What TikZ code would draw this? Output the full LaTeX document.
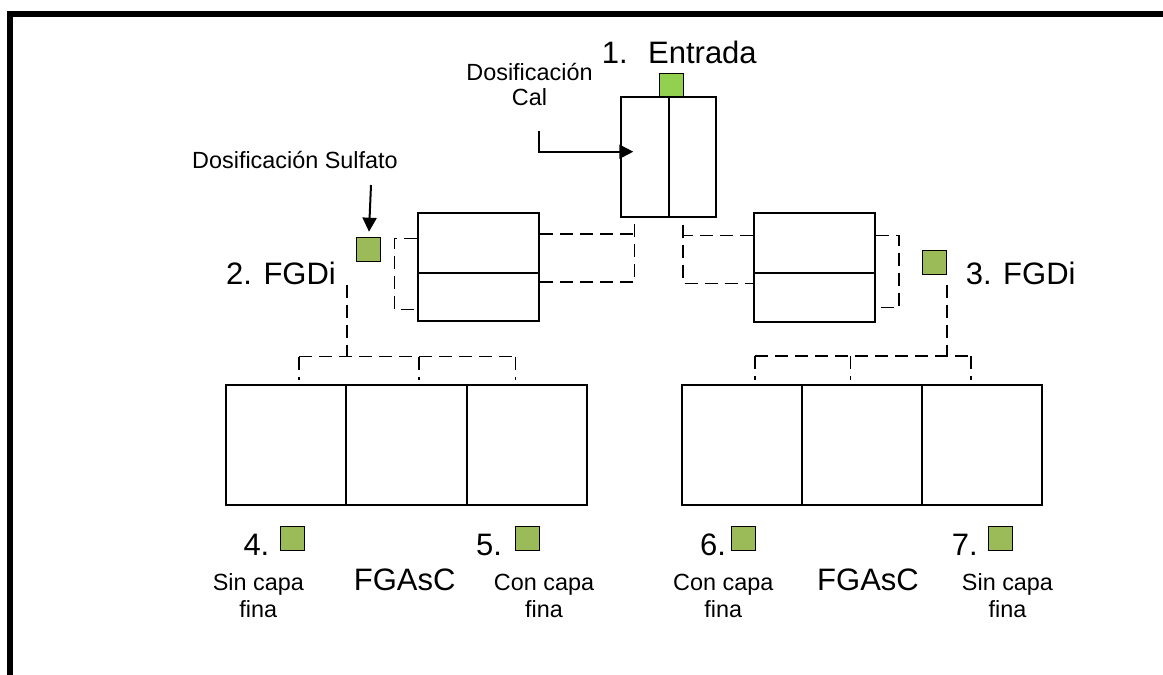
\documentclass[tikz,border=0pt]{standalone}
\usepackage{fontspec}
\setmainfont{Liberation Sans}
\usetikzlibrary{arrows.meta,calc}
\definecolor{olv}{HTML}{9BBB59}
\definecolor{lgr}{HTML}{92D050}
\begin{document}
\begin{tikzpicture}[x=1pt,y=-1pt,
  boxnode/.style={draw,line width=2pt,inner sep=0pt},
  cell/.style={boxnode,minimum width=120.2pt,minimum height=120pt},
  fgdi/.style={boxnode,minimum width=121pt,minimum height=108.5pt},
  solidline/.style={line width=2pt},
  dsh/.style={line width=1.5pt,dash pattern=on 13pt off 7pt},
  sq/.style={draw,line width=1pt,fill=olv,minimum width=24pt,minimum height=24pt,inner sep=0pt},
  big/.style={font=\fontsize{31}{37}\selectfont,inner sep=0pt},
  small/.style={font=\fontsize{23.4}{28}\selectfont,inner sep=0pt},
  arr/.style={line width=2pt,-{Triangle[length=14pt,width=14pt]}}
]
\useasboundingbox (0,0) rectangle (1163,675);
% frame
\draw[line width=6pt] (1175,13.7) -- (10.3,13.7) -- (10.3,690);

% top box
\node[boxnode,minimum width=95.6pt,minimum height=120pt] (b1) at (668.5,156.7) {};
\draw[solidline] (b1.north) -- (b1.south);
\node[sq,fill=lgr,minimum width=24pt,minimum height=23pt] (s1) at (671,84.5) {};
\node[big,anchor=base west] (t1) at (601.7,63) {1.\hspace{20.4pt}Entrada};

% Dosificacion Cal
\node[small,anchor=base] (dc1) at (529.5,80) {Dosificación};
\node[small,anchor=base] (dc2) at (529.5,105) {Cal};
\coordinate (cal0) at (539.3,131);
\coordinate (caltip) at ($(b1.west)+(13.6,-5)$);
\draw[arr] (cal0) -- (cal0 |- caltip) -- (caltip);

% FGDi boxes
\node[fgdi] (b2) at (478.4,267.2) {};
\draw[solidline] ($(b2.north west)!0.55!(b2.south west)$) -- ($(b2.north east)!0.55!(b2.south east)$);
\node[fgdi] (b3) at (814.4,267.3) {};
\draw[solidline] ($(b3.north west)!0.55!(b3.south west)$) -- ($(b3.north east)!0.55!(b3.south east)$);

% dashed links box1 - box2
\coordinate (j1) at ($(b1.south)+(-34,6.3)$);
\draw[dsh] (j1) -- (j1 |- 0,282) -- (b2.east |- 0,282);
\draw[dsh] (b2.east |- 0,234) -- (j1 |- 0,234);
% dashed links box1 - box3
\coordinate (j2) at ($(b1.south)+(14.5,7.3)$);
\draw[dsh] (j2) -- (j2 |- 0,283.3) -- (b3.west |- 0,283.3);
\draw[dsh] (b3.west |- 0,235.7) -- (j2 |- 0,235.7);
% side brackets
\draw[dsh] (b3.east |- 0,235.7) -- (899,235.7) -- (899,307.7) -- (b3.east |- 0,307.7);
\draw[dsh] (b2.west |- 0,238.3) -- (394.3,238.3) -- (394.3,309.3) -- (b2.west |- 0,309.3);

% green squares and labels of FGDi
\node[sq] (s2) at (368.2,249.7) {};
\node[sq] (s3) at (934.3,262) {};
\node[small,anchor=base] (ds) at (295,168.3) {Dosificación Sulfato};
\coordinate (sulf0) at (371,185);
\draw[arr] (sulf0) -- ($(s2.north)+(0.8,-5.5)$);
\node[big,anchor=base west] (l2) at (226,284.3) {2. FGDi};
\node[big,anchor=base west] (l3) at (965.7,284.3) {3. FGDi};

% bottom cells
\node[cell] (c1) at (286.35,444.5) {};
\node[cell] (c2) at (406.55,444.5) {};
\node[cell] (c3) at (526.75,444.5) {};
\node[cell] (c4) at (741.85,444.8) {};
\node[cell] (c5) at (862.05,444.8) {};
\node[cell] (c6) at (982.25,444.8) {};

% tree left
\coordinate (t2) at (347,285);
\draw[dsh] (t2) -- (347,356.5);
\draw[dsh] (299,356.5) -- (515.3,356.5);
\draw[dsh] (299,356.5) -- (299,379.5);
\draw[dsh] (419,356.5) -- (419,379.5);
\draw[dsh] (515.3,356.5) -- (515.3,379.5);
% tree right
\coordinate (t3) at (947,285);
\draw[dsh] (t3) -- (947,356);
\draw[dsh] (755,356) -- (971,356);
\draw[dsh] (755,356) -- (755,379.5);
\draw[dsh] (850.7,356) -- (850.7,379.5);
\draw[dsh] (971,356) -- (971,379.5);

% bottom squares and labels
\node[sq] (s4) at (292.2,538.7) {};
\node[sq] (s5) at (527.3,538.7) {};
\node[sq] (s6) at (743.2,538.7) {};
\node[sq] (s7) at (1000.5,538.7) {};
\node[big,anchor=base west] (n4) at (243.3,555) {4.};
\node[big,anchor=base west] (n5) at (476,555) {5.};
\node[big,anchor=base west] (n6) at (700,555) {6.};
\node[big,anchor=base west] (n7) at (951.7,555) {7.};

\node[small,anchor=base] (a1) at (258.3,590.7) {Sin capa};
\node[small,anchor=base] (a2) at (258.3,617) {fina};
\node[big,anchor=base] (f1) at (404.7,590.7) {FGAsC};
\node[small,anchor=base] (b1a) at (544,590.7) {Con capa};
\node[small,anchor=base] (b1b) at (544,617) {fina};

\node[small,anchor=base] (a3) at (723.3,590.7) {Con capa};
\node[small,anchor=base] (a4) at (723.3,617) {fina};
\node[big,anchor=base] (f2) at (868,590.7) {FGAsC};
\node[small,anchor=base] (a5) at (1007.5,590.7) {Sin capa};
\node[small,anchor=base] (a6) at (1007.5,617) {fina};
\end{tikzpicture}
\end{document}
